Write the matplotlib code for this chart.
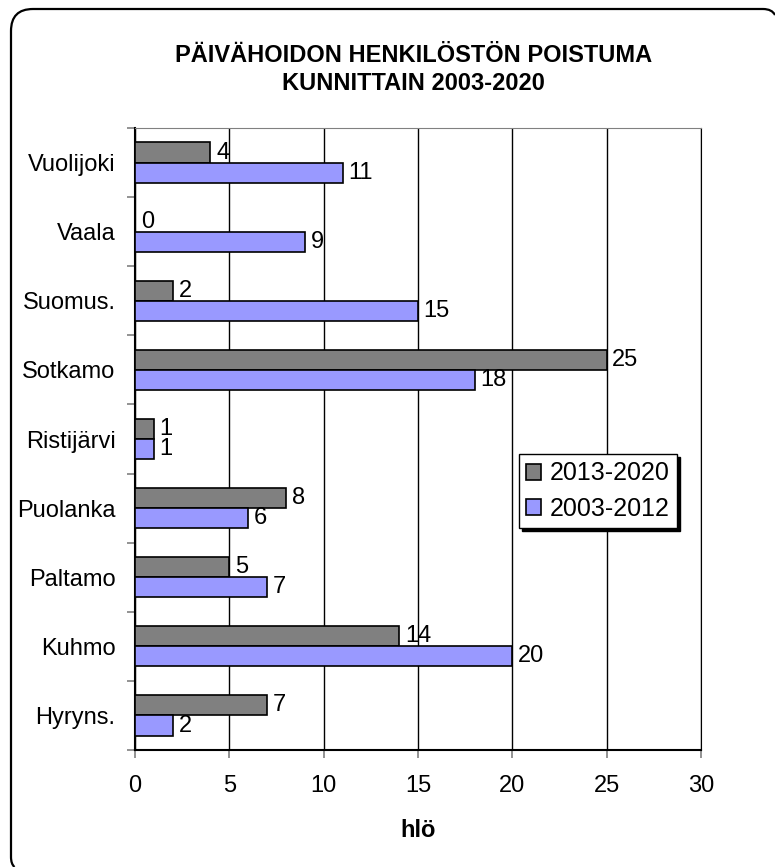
import matplotlib.pyplot as plt
import numpy as np
from matplotlib.path import Path
from matplotlib.patches import PathPatch

plt.rcParams['font.family'] = ['Liberation Sans', 'DejaVu Sans']

kunnat = ["Hyryns.", "Kuhmo", "Paltamo", "Puolanka", "Ristijärvi",
          "Sotkamo", "Suomus.", "Vaala", "Vuolijoki"]
v2013_2020 = [7, 14, 5, 8, 1, 25, 2, 0, 4]
v2003_2012 = [2, 20, 7, 6, 1, 18, 15, 9, 11]

fig = plt.figure(figsize=(7.75, 8.67), dpi=100)
ax = fig.add_axes([0.1742, 0.1349, 0.7303, 0.7175])

# rounded frame (inches); only the part that falls inside the picture is drawn
L, T, r = 0.11, 8.58, 0.22
verts = [(0.145, 0.0), (L, 0.03), (L, 0.10),
         (L, T - r), (L, T), (L + r, T),
         (7.63, T), (7.72, T), (7.75, T - 0.06)]
codes = [Path.MOVETO, Path.CURVE3, Path.CURVE3,
         Path.LINETO, Path.CURVE3, Path.CURVE3,
         Path.LINETO, Path.CURVE3, Path.CURVE3]
frame = PathPatch(Path(verts, codes), transform=fig.dpi_scale_trans,
                  fill=False, edgecolor="black", linewidth=1.6)
fig.patches.append(frame)

y = np.arange(len(kunnat))
h = 0.29
b1 = ax.barh(y + h / 2, v2013_2020, height=h, color="#808080",
             edgecolor="black", linewidth=1.2, label="2013-2020", zorder=3)
b2 = ax.barh(y - h / 2, v2003_2012, height=h, color="#9999FF",
             edgecolor="black", linewidth=1.2, label="2003-2012", zorder=3)

for bars, vals in ((b1, v2013_2020), (b2, v2003_2012)):
    for rect, v in zip(bars, vals):
        ax.text(v + 0.3, rect.get_y() + rect.get_height() / 2, str(v),
                ha="left", va="center", fontsize=17, zorder=4)

ax.set_xlim(0, 30)
ax.set_ylim(-0.5, len(kunnat) - 0.5)
ax.set_xticks(range(0, 31, 5))
ax.set_yticks(y)
ax.set_yticklabels(kunnat)
ax.set_yticks(np.arange(-0.5, len(kunnat), 1), minor=True)
ax.tick_params(axis="y", which="major", length=0, labelsize=17, pad=14)
ax.tick_params(axis="y", which="minor", length=6, color="#808080", width=1.2)
ax.tick_params(axis="x", length=6, color="#808080", width=1.2,
               labelsize=17, pad=12)
ax.grid(axis="x", color="black", linewidth=1, zorder=0)

ax.spines["top"].set_color("#808080")
ax.spines["right"].set_color("black")
ax.spines["left"].set_linewidth(1.5)
ax.spines["bottom"].set_linewidth(1.5)

ax.set_xlabel("hlö", fontsize=17, fontweight="bold", labelpad=16)
fig.text(0.534, 0.92, "PÄIVÄHOIDON HENKILÖSTÖN POISTUMA\nKUNNITTAIN 2003-2020",
         ha="center", va="center", fontsize=17, fontweight="bold",
         linespacing=1.25)

leg = ax.legend(loc="upper left", bbox_to_anchor=(0.678, 0.476), fontsize=18,
                frameon=True, fancybox=False, shadow={"color": "black", "alpha": 1},
                handlelength=0.6, handleheight=0.6, handletextpad=0.35,
                borderpad=0.3, labelspacing=0.45, borderaxespad=0)
leg.get_frame().set_edgecolor("black")
leg.get_frame().set_linewidth(1)

plt.savefig("out.png", dpi=100)
